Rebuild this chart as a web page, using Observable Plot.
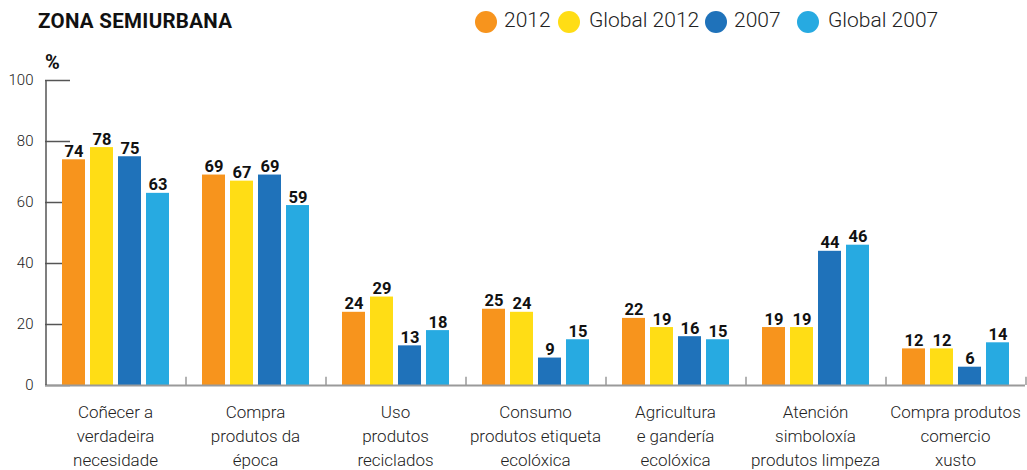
<!DOCTYPE html>
<html>
<head>
<meta charset="utf-8">
<script src="https://cdn.jsdelivr.net/npm/d3@7"></script>
<script src="https://cdn.jsdelivr.net/npm/@observablehq/plot@0.6"></script>
<style>
  body { margin: 0; background: #fff; font-family: Roboto, sans-serif; }
  #wrap { position: relative; width: 1027px; height: 470px; }
  #header { position: relative; height: 45px; }
  #title { position: absolute; left: 38px; top: 9px; font-weight: 700; font-size: 20.5px; color: #111; letter-spacing: 0.3px; }
  #legend { position: absolute; left: 0; top: 0; width: 1027px; height: 45px; font-weight: 300; font-size: 21px; color: #222; }
  .sw { position: absolute; top: 11px; width: 22px; height: 22px; border-radius: 50%; }
  .lt { position: absolute; top: 8px; white-space: nowrap; }
  #pct { position: absolute; left: 45px; top: 50px; font-weight: 700; font-size: 20px; color: #111; }
</style>
</head>
<body>
<div id="wrap">
  <div id="header">
    <div id="title">ZONA SEMIURBANA</div>
    <div id="legend"></div>
  </div>
  <div id="pct">%</div>
  <div id="chart"></div>
</div>
<script>
const categories = [
  "Coñecer a verdadeira necesidade",
  "Compra produtos da época",
  "Uso produtos reciclados",
  "Consumo produtos etiqueta ecolóxica",
  "Agricultura e gandería ecolóxica",
  "Atención simboloxía produtos limpeza",
  "Compra produtos comercio xusto"
];
const categoryLabels = [
  "Coñecer a\nverdadeira\nnecesidade",
  "Compra\nprodutos da\népoca",
  "Uso\nprodutos\nreciclados",
  "Consumo\nprodutos etiqueta\necolóxica",
  "Agricultura\ne gandería\necolóxica",
  "Atención\nsimboloxía\nprodutos limpeza",
  "Compra produtos\ncomercio\nxusto"
];
const series = ["2012", "Global 2012", "2007", "Global 2007"];
const colors = ["#F7941D", "#FFDD15", "#1F72BA", "#27AAE1"];
const values2012 = [74, 69, 24, 25, 22, 19, 12];
const valuesGlobal2012 = [78, 67, 29, 24, 19, 19, 12];
const values2007 = [75, 69, 13, 9, 16, 44, 6];
const valuesGlobal2007 = [63, 59, 18, 15, 15, 46, 14];
const yTicks = [0, 20, 40, 60, 80, 100];

const seriesValues = [values2012, valuesGlobal2012, values2007, valuesGlobal2007];
const rows = [];
categories.forEach((c, i) => series.forEach((s, j) => rows.push({cat: c, series: s, value: seriesValues[j][i]})));

// legend (layout positions of swatches and labels)
const legendSwatchLeft = [475, 558, 705, 797];
const legendTextLeft = [504, 589, 734, 828];
const legend = document.getElementById("legend");
series.forEach((s, j) => {
  const sw = document.createElement("span");
  sw.className = "sw";
  sw.style.left = legendSwatchLeft[j] + "px";
  sw.style.background = colors[j];
  legend.appendChild(sw);
  const t = document.createElement("span");
  t.className = "lt";
  t.style.left = legendTextLeft[j] + "px";
  t.textContent = s;
  legend.appendChild(t);
});

const width = 1027, height = 425;
const marginLeft = 45, marginRight = 2, marginTop = 35, marginBottom = 85;
const band = (width - marginLeft - marginRight) / categories.length;
const pInner = 0.18, pOuter = 0.59;
const step = band / (series.length - pInner + 2 * pOuter);
const labelMap = new Map(categories.map((c, i) => [c, categoryLabels[i]]));

const chart = Plot.plot({
  width, height, marginLeft, marginRight, marginTop, marginBottom,
  style: {fontFamily: "Roboto, sans-serif", background: "transparent"},
  fx: {domain: categories, padding: 0, label: null},
  x: {domain: series, paddingInner: pInner, paddingOuter: pOuter, axis: null},
  y: {domain: [0, 100], label: null},
  color: {domain: series, range: colors},
  marks: [
    // y ticks pointing inward (first facet)
    Plot.ruleY(yTicks, {y: d => d, fx: () => categories[0], insetRight: band - 25, stroke: "#555", strokeWidth: 1.5}),
    Plot.barY(rows, {fx: "cat", x: "series", y: "value", fill: "series"}),
    Plot.ruleY([0], {stroke: "#9a9a9a", strokeWidth: 2}),
    // group separator ticks
    Plot.ruleX(categories, {fx: d => d, x: () => series[series.length - 1], dx: step, y1: 0, y2: 2.7, stroke: "#9a9a9a", strokeWidth: 1.5}),
    // y axis line
    Plot.ruleX([series[0]], {fx: () => categories[0], x: d => d, dx: -step, y1: 0, y2: 100, stroke: "#555", strokeWidth: 1.5}),
    Plot.text(rows, {fx: "cat", x: "series", y: "value", text: d => String(d.value), lineAnchor: "bottom", dy: -3, fontWeight: 700, fontSize: 16.5, fill: "#111"}),
    Plot.axisY({ticks: yTicks, tickSize: 0, tickPadding: 12, fontSize: 15, fontWeight: 300, fill: "#222", label: null}),
    Plot.axisFx({anchor: "bottom", tickSize: 0, tickPadding: 15, fontSize: 17, fontWeight: 300, fill: "#222", lineHeight: 1.42, tickFormat: d => labelMap.get(d), label: null})
  ]
});
document.getElementById("chart").appendChild(chart);
</script>
</body>
</html>
